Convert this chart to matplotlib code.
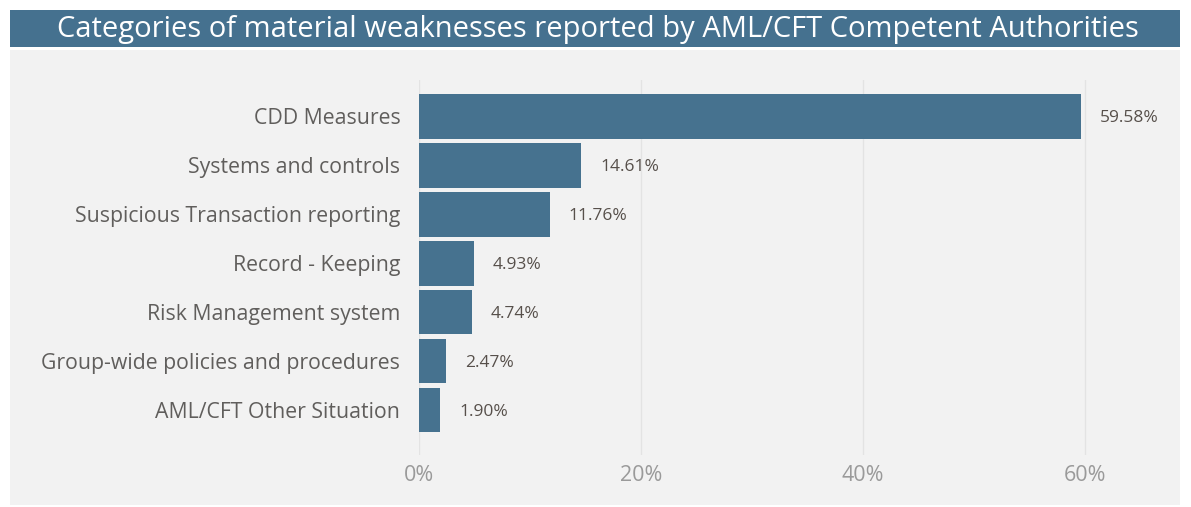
import matplotlib
matplotlib.use("Agg")
import matplotlib.pyplot as plt
from matplotlib.patches import Rectangle

categories = ["CDD Measures", "Systems and controls", "Suspicious Transaction reporting",
              "Record - Keeping", "Risk Management system",
              "Group-wide policies and procedures", "AML/CFT Other Situation"]
values = [59.58, 14.61, 11.76, 4.93, 4.74, 2.47, 1.90]
xticks = [0, 20, 40, 60]
xtick_labels = ["0%", "20%", "40%", "60%"]
title = "Categories of material weaknesses reported by AML/CFT Competent Authorities"

plt.rcParams['font.family'] = ['Open Sans', 'DejaVu Sans']

W, H = 1191, 507
fig = plt.figure(figsize=(W/100, H/100), dpi=100, facecolor="white")

# background panel and title banner
fig.patches.append(Rectangle((10/W, 2/H), 1170/W, (H-50-2)/H, transform=fig.transFigure,
                             facecolor="#f2f2f2", edgecolor="none", zorder=-10))
fig.patches.append(Rectangle((10/W, (H-47)/H), 1170/W, 37/H, transform=fig.transFigure,
                             facecolor="#45718f", edgecolor="none", zorder=-10))
fig.text(598/W, (H-29)/H, title, color="white", fontsize=21, ha="center", va="center")

left, right = 419, 1152
top, bottom = 80, 455
ax = fig.add_axes([left/W, (H-bottom)/H, (right-left)/W, (bottom-top)/H])
ax.set_facecolor("none")
ax.set_zorder(5)
y = list(range(len(categories)))
ax.barh(y, values, height=0.9, color="#46728f", zorder=3)
for yi, v in zip(y, values):
    ax.text(v + 1.7, yi + 0.03, f"{v:.2f}%", va="center", ha="left", fontsize=12.5,
            color="#57504b", zorder=4)
ax.set_xlim(0, 66)
ax.set_ylim(6.91, -0.745)
ax.set_yticks(y)
ax.set_yticklabels(categories, fontsize=15.3, color="#605e5c")
ax.set_xticks(xticks)
ax.set_xticklabels(xtick_labels, fontsize=15.5, color="#9a9a9a")
ax.tick_params(axis="both", length=0)
ax.tick_params(axis="y", pad=13.5)
ax.tick_params(axis="x", pad=7)
ax.grid(axis="x", color="#e3e3e3", linewidth=1, zorder=0)
for s in ax.spines.values():
    s.set_visible(False)

fig.savefig("out.png", dpi=100, facecolor="white")
